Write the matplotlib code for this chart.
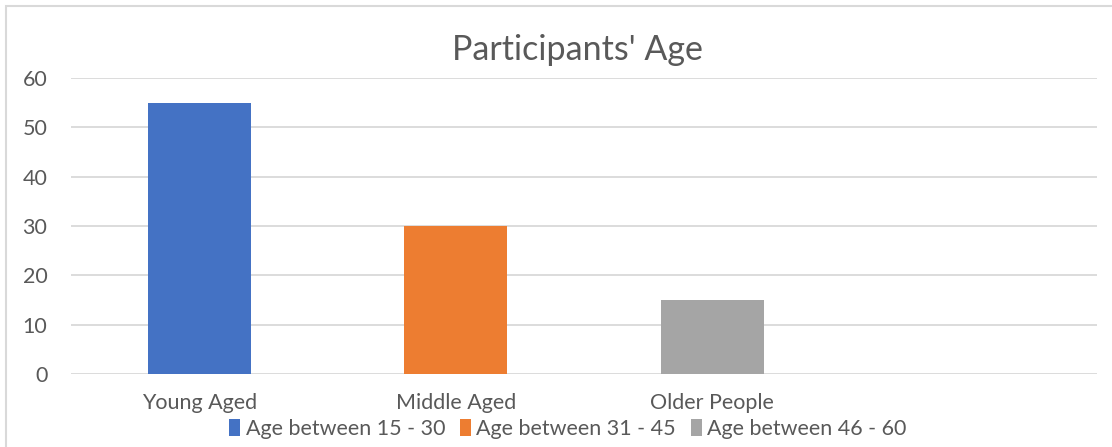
import matplotlib
matplotlib.use("Agg")
import matplotlib.pyplot as plt
from matplotlib.patches import Patch, Rectangle

categories = ["Young Aged", "Middle Aged", "Older People", ""]
values = [55, 30, 15, None]
colors = ["#4472C4", "#ED7D31", "#A5A5A5"]
legend_labels = ["Age between 15 - 30", "Age between 31 - 45", "Age between 46 - 60"]
yticks = [0, 10, 20, 30, 40, 50, 60]
title = "Participants' Age"

W, H = 1112, 447
fig = plt.figure(figsize=(W / 100, H / 100), dpi=100)
plt.rcParams['font.family'] = ['Lato', 'DejaVu Sans']
txt = "#595959"

fig.patches.append(Rectangle((6 / W, -0.1), 1.2, 1 - 6 / H + 0.1, transform=fig.transFigure,
                             fill=False, edgecolor="#D9D9D9", linewidth=1.5))

ax = fig.add_axes([71 / W, 1 - 374 / H, (1097 - 71) / W, (374 - 78) / H])
xs = list(range(len(categories)))
for i, v in enumerate(values):
    if v is not None:
        ax.bar(xs[i], v, width=0.4, color=colors[i], zorder=3)

ax.set_xlim(-0.5, len(categories) - 0.5)
ax.set_ylim(0, 60)
ax.set_yticks(yticks)
ax.set_yticklabels([str(t) for t in yticks], fontsize=15.5, color=txt)
ax.set_xticks(xs)
ax.set_xticklabels(categories, fontsize=15.5, color=txt)
ax.tick_params(axis='both', length=0)
ax.tick_params(axis='y', pad=17)
ax.tick_params(axis='x', pad=14)
ax.grid(axis='y', color="#D9D9D9", linewidth=1.3, zorder=0)
for s in ax.spines.values():
    s.set_visible(False)

fig.text(577 / W, 1 - 50 / H, title, ha='center', va='center', fontsize=24.5, color=txt)

handles = [Patch(facecolor=c, label=l) for c, l in zip(colors, legend_labels)]
fig.legend(handles=handles, loc='center', bbox_to_anchor=(568 / W, 1 - 429 / H), ncol=3,
           frameon=False, fontsize=15.5, labelcolor=txt, handlelength=0.5, handleheight=0.8,
           handletextpad=0.25, columnspacing=0.7)

fig.savefig("out.png", dpi=100)
